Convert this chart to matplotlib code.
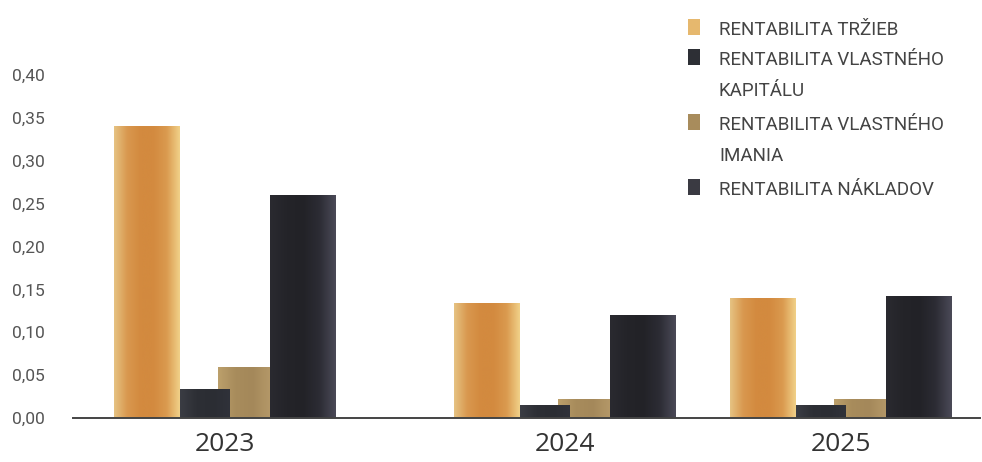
import matplotlib.pyplot as plt
import numpy as np
from matplotlib.colors import LinearSegmentedColormap
from matplotlib.patches import Rectangle

# data
years = ["2023", "2024", "2025"]
labels = ["RENTABILITA TRŽIEB",
          "RENTABILITA VLASTNÉHO\nKAPITÁLU",
          "RENTABILITA VLASTNÉHO\nIMANIA",
          "RENTABILITA NÁKLADOV"]
trzby = [0.340, 0.134, 0.140]
kapital = [0.034, 0.015, 0.015]
imanie = [0.059, 0.022, 0.022]
naklady = [0.260, 0.120, 0.142]

W, H = 982, 462

# group centres and bar geometry in pixel-like x units (layout only)
centres = np.array([225, 565, 841])
bar_left = [-111, -45, -7, 45]
bar_width = [66, 50, 52, 66]
gradients = [
    ["#e6c383", "#d9984f", "#d38a3f", "#d38a3f", "#da9a4f", "#f1d189"],
    ["#3b3d44", "#2d2f35", "#2b2d33", "#30323a"],
    ["#bca06c", "#a88c5c", "#a4885a", "#b49868"],
    ["#2a2a30", "#242429", "#222227", "#2c2c34", "#4b4a58"],
]
legend_colors = ["#e6b86e", "#2d2f35", "#a88c5c", "#3a3a42"]
draw_order = [0, 2, 1, 3]

fig = plt.figure(figsize=(W / 100, H / 100), dpi=100)
ax = fig.add_axes([73 / W, 44 / H, (980 - 73) / W, (418 - 75) / H])

values = [trzby, kapital, imanie, naklady]
grad = np.linspace(0, 1, 256)[np.newaxis, :]
for z, s in enumerate(draw_order):
    cmap = LinearSegmentedColormap.from_list(f"g{s}", gradients[s])
    bars = ax.bar(centres + bar_left[s], values[s], width=bar_width[s],
                  align="edge", color=gradients[s][1], zorder=2 + z,
                  linewidth=0)
    for b in bars:
        x0, w, h = b.get_x(), b.get_width(), b.get_height()
        im = ax.imshow(grad, extent=[x0, x0 + w, 0, h], cmap=cmap,
                       aspect="auto", zorder=2 + z, interpolation="bicubic")
        im.set_clip_path(b)

ax.set_xlim(73, 980)
ax.set_ylim(0, 0.40)

yt = np.arange(0, 0.401, 0.05)
ax.set_yticks(yt)
ax.set_yticklabels([f"{v:.2f}".replace(".", ",") for v in yt],
                   fontfamily="Roboto", fontsize=12.5, color="#555555")
ax.tick_params(axis="y", length=0, pad=20)
ax.set_xticks(centres)
ax.set_xticklabels(years, fontfamily="Open Sans", fontsize=19, color="#333333")
ax.tick_params(axis="x", length=0, pad=10)

for sp in ["left", "right", "top"]:
    ax.spines[sp].set_visible(False)
ax.spines["bottom"].set_color("#444444")
ax.spines["bottom"].set_linewidth(1.4)
ax.spines["bottom"].set_zorder(10)


def fx(px):
    return px / W


def fy(py):
    return 1 - py / H


# legend, drawn by hand so the marker sits on the first line
text_top = [20, 50, 115, 180]
for i, lab in enumerate(labels):
    fig.patches.append(Rectangle((fx(688), fy(text_top[i] + 15)), 12 / W, 16 / H,
                                 transform=fig.transFigure,
                                 color=legend_colors[i], linewidth=0))
    fig.text(fx(719), fy(text_top[i] + 1), lab, fontfamily="Roboto",
             fontsize=13.5, color="#444444", va="top", ha="left",
             linespacing=1.95)

fig.savefig("out.png", dpi=100)
